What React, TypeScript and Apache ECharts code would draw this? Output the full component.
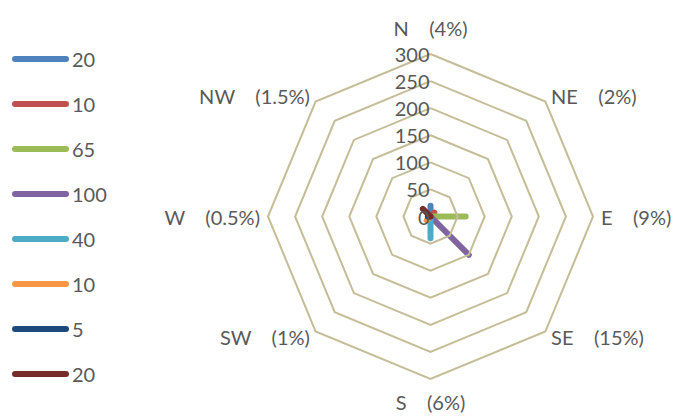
import React, { useEffect, useRef } from "react";
import * as echarts from "echarts";

const directions = ["N", "NE", "E", "SE", "S", "SW", "W", "NW"];
const percents = ["4%", "2%", "9%", "15%", "6%", "1%", "0.5%", "1.5%"];
const seriesValues = [20, 10, 65, 100, 40, 10, 5, 20];
const seriesLabels = ["20", "10", "65", "100", "40", "10", "5", "20"];
const seriesColors = ["#4F81BD", "#C0504D", "#9BBB59", "#8064A2", "#4BACC6", "#F79646", "#1F497D", "#772C2A"];
const axisMax = 300;
const axisSplits = 6;

// ECharts places radar indicators counter-clockwise; show them clockwise from N.
const displayOrder = [0, 7, 6, 5, 4, 3, 2, 1];

const FONT = "Lato, 'Open Sans', sans-serif";
const TEXT = "#595959";
const FS = 20;

export default function App() {
  const ref = useRef<HTMLDivElement>(null);
  useEffect(() => {
    if (!ref.current) return;
    const chart = echarts.init(ref.current, null, { renderer: "svg" });
    const ids = seriesLabels.map((_, i) => "s" + i);
    const labelMap: Record<string, string> = {};
    ids.forEach((id, i) => (labelMap[id] = seriesLabels[i]));

    const indicator = displayOrder.map((d, k) => {
      const ind: any = {
        name: directions[d] + "    (" + percents[d] + ")",
        min: 0,
        max: axisMax,
      };
      if (k === 0) {
        ind.axisLabel = {
          show: true,
          color: TEXT,
          fontFamily: FONT,
          fontSize: FS,
          lineHeight: 20,
          margin: 1,
        };
      }
      return ind;
    });

    const series = seriesValues.map((v, i) => ({
      type: "radar",
      name: ids[i],
      symbol: "none",
      silent: true,
      z: 2,
      lineStyle: {
        color: seriesColors[i],
        width: 6,
        cap: "round",
        join: "round",
      },
      itemStyle: { color: seriesColors[i] },
      data: [
        {
          name: ids[i],
          value: displayOrder.map((d) => (d === i ? v : 0)),
        },
      ],
    }));

    chart.setOption({
      animation: false,
      backgroundColor: "#ffffff",
      legend: {
        orient: "vertical",
        left: 12,
        top: 49,
        padding: 0,
        itemWidth: 57,
        itemHeight: 6,
        itemGap: 25,
        icon: "path://M3,0 L54,0 A3,3 0 0 1 54,6 L3,6 A3,3 0 0 1 3,0 Z",
        data: ids,
        formatter: (name: string) => labelMap[name],
        textStyle: {
          color: TEXT,
          fontFamily: FONT,
          fontSize: FS,
          lineHeight: 20,
          padding: [0, 0, 0, -2],
        },
        selectedMode: false,
      },
      radar: {
        center: [430.5, 216.5],
        radius: 162.5,
        startAngle: 90,
        shape: "polygon",
        splitNumber: axisSplits,
        z: 3,
        indicator,
        axisName: {
          color: TEXT,
          fontFamily: FONT,
          fontSize: FS,
          formatter: (name: string) => {
            if (name.indexOf("N ") === 0) return "{n|" + name + "}";
            if (name.indexOf("S ") === 0) return "{s|" + name + "}";
            return name;
          },
          rich: {
            n: { color: TEXT, fontFamily: FONT, fontSize: FS, lineHeight: 20, padding: [0, 0, 6, 0] },
            s: { color: TEXT, fontFamily: FONT, fontSize: FS, padding: [5, 0, 0, 0] },
          },
        },
        nameGap: 8,
        axisLine: { show: false },
        axisTick: { show: false },
        axisLabel: { show: false },
        splitArea: { show: false },
        splitLine: {
          lineStyle: { color: "#C4BD97", width: 2 },
        },
      },
      series,
    });
    return () => chart.dispose();
  }, []);
  return (
    <div
      ref={ref}
      style={{ position: "fixed", left: 0, top: 0, width: 674, height: 416 }}
    />
  );
}
